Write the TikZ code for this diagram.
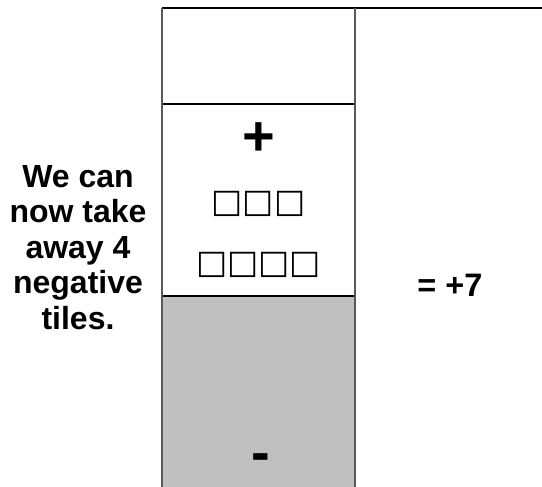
\documentclass[tikz,border=0pt]{standalone}
\usepackage{fontspec}
\setmainfont{Liberation Sans}
\newfontfamily\dejavu{DejaVu Sans}
\begin{document}
\begin{tikzpicture}[x=1pt,y=-1pt,
  vline/.style={draw=black!65,line width=1.3pt},
  hline/.style={draw=black,line width=1.1pt},
  lbl/.style={inner sep=0pt,font=\bfseries\fontsize{32}{35.5}\selectfont},
  res/.style={inner sep=0pt,font=\bfseries\fontsize{32.5}{36}\selectfont},
  sign/.style={inner sep=0pt,font=\bfseries\fontsize{56}{60}\selectfont},
  tiles/.style={inner sep=0pt,font=\dejavu\fontsize{33}{38}\selectfont}]
\useasboundingbox (0,0) rectangle (542,487);
\fill[fill={rgb,255:red,192;green,192;blue,192}] (162,296) rectangle (355,487);
\draw[hline] (162,8) -- (542,8);
\draw[hline] (162,104) -- (355,104);
\draw[hline] (162,296) -- (355,296);
\draw[vline] (162,8) -- (162,487);
\draw[vline] (355,8) -- (355,487);
\node[lbl,align=center] (msg) at (78,247.5) {We can\\now take\\away 4\\negative\\tiles.};
\node[res,anchor=base] (res) at (450,297) {= +7};
\node[sign,anchor=base] (plus) at (258.5,156) {+};
\node[sign,anchor=base] (minus) at (260.5,471) {-};
\node[tiles] (row1) at (258.5,204) {□□□};
\node[tiles] (row2) at (258.5,265) {□□□□};
\end{tikzpicture}
\end{document}
